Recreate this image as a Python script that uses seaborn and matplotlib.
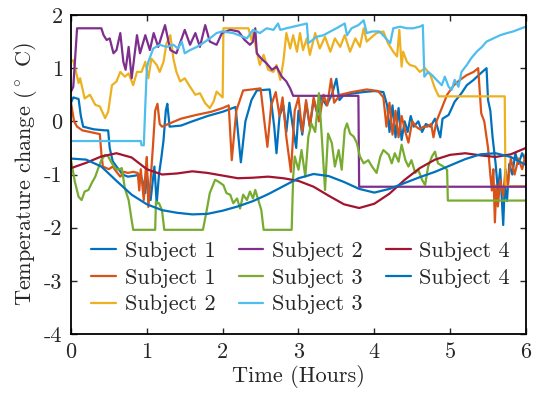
import numpy as np
import pandas as pd
import seaborn as sns
import matplotlib.pyplot as plt

# colores por defecto de MATLAB
c_blue = '#0072BD'
c_orange = '#D95319'
c_yellow = '#EDB120'
c_purple = '#7E2F8E'
c_green = '#77AC30'
c_lblue = '#4DBEEE'
c_red = '#A2142F'

# (tiempo en horas, cambio de temperatura)
s1_blue = [(0, 0.35), (0.03, 0.45), (0.1, 0.42), (0.13, 0.1), (0.16, -0.1), (0.3, -0.15),
           (0.45, -0.17), (0.49, -0.17), (0.51, -0.5), (0.55, -0.75), (0.6, -0.85), (0.68, -1.0),
           (0.75, -1.04), (0.85, -1.02), (0.91, -1.0), (0.94, -1.1), (0.98, -1.35), (1.0, -1.0),
           (1.05, -1.48), (1.08, -1.1), (1.1, -0.85), (1.13, -1.55), (1.16, -1.0), (1.19, -0.7),
           (1.22, -0.36), (1.25, 0.2), (1.27, 0.33), (1.3, -0.1), (1.45, -0.08), (1.6, 0.0),
           (1.8, 0.1), (2.0, 0.18), (2.17, 0.27), (2.24, -0.77), (2.3, 0.0), (2.38, 0.4),
           (2.45, 0.58), (2.62, 0.6), (2.68, -0.1), (2.71, -0.6), (2.75, 0.1), (2.8, 0.3),
           (2.84, -0.2), (2.88, 0.35), (2.92, -0.05), (2.97, -0.5), (3.0, 0.2), (3.05, -0.25),
           (3.1, 0.35), (3.15, -0.1), (3.2, 0.4), (3.25, 0.15), (3.3, 0.45), (3.37, 0.3),
           (3.44, 0.5), (3.5, 0.8), (3.54, 0.4), (3.6, 0.5), (3.7, 0.52), (3.85, 0.55),
           (4.0, 0.57), (4.12, 0.55), (4.17, 0.3), (4.2, -0.2), (4.24, 0.3), (4.28, -0.3),
           (4.32, 0.25), (4.36, -0.35), (4.4, 0.0), (4.44, -0.2), (4.48, 0.1), (4.52, -0.1),
           (4.58, 0.0), (4.63, -0.2), (4.68, -0.05), (4.74, -0.1), (4.8, 0.05), (4.87, -0.3),
           (4.9, 0.05), (4.98, 0.12), (5.06, 0.37), (5.15, 0.53), (5.22, 0.68), (5.31, 0.78),
           (5.4, 0.9), (5.48, 1.0), (5.5, 0.4), (5.53, 0.2), (5.56, -0.3), (5.6, -0.8),
           (5.63, -1.3), (5.66, -0.9), (5.7, -1.95), (5.72, -1.2), (5.75, -1.5), (5.78, -0.8),
           (5.82, -1.0), (5.86, -0.6), (5.9, -0.8), (5.95, -0.6), (6.0, -0.75)]

s1_orange = [(0, 0.35), (0.04, 0.0), (0.08, -0.1), (0.15, -0.17), (0.25, -0.2), (0.38, -0.24),
             (0.4, -0.6), (0.42, -0.85), (0.5, -0.9), (0.55, -0.85), (0.6, -0.95), (0.65, -1.04),
             (0.7, -0.95), (0.75, -0.97), (0.82, -0.95), (0.88, -0.97), (0.9, -1.3), (0.92, -0.9),
             (0.96, -1.48), (0.98, -1.0), (1.0, -0.67), (1.02, -1.61), (1.05, -1.1), (1.08, -0.48),
             (1.11, 0.2), (1.14, 0.33), (1.17, -0.05), (1.2, -0.1), (1.3, -0.04), (1.45, 0.05),
             (1.65, 0.12), (1.85, 0.18), (2.0, 0.25), (2.08, 0.3), (2.12, -0.73), (2.18, 0.2),
             (2.27, 0.58), (2.5, 0.62), (2.55, 0.0), (2.59, -0.48), (2.64, 0.3), (2.7, 0.55),
             (2.75, 0.1), (2.79, 0.45), (2.84, -0.3), (2.9, -0.95), (2.95, 0.2), (3.0, 0.45),
             (3.05, -0.2), (3.1, 0.4), (3.15, -0.1), (3.2, 0.45), (3.27, 0.0), (3.33, 0.5),
             (3.38, 0.3), (3.43, 0.8), (3.47, 0.35), (3.55, 0.5), (3.7, 0.55), (3.9, 0.6),
             (4.05, 0.57), (4.12, 0.45), (4.16, -0.1), (4.2, 0.35), (4.24, -0.25), (4.28, 0.2),
             (4.32, -0.3), (4.36, 0.1), (4.41, -0.2), (4.45, -0.4), (4.5, 0.0), (4.55, -0.1),
             (4.6, -0.15), (4.65, -0.1), (4.7, -0.1), (4.75, -0.05), (4.78, -0.3), (4.82, 0.0),
             (4.89, 0.25), (4.96, 0.5), (5.05, 0.68), (5.13, 0.78), (5.22, 0.87), (5.31, 0.93),
             (5.37, 1.0), (5.41, 0.15), (5.45, 0.0), (5.5, -0.5), (5.53, -1.0), (5.55, -1.3),
             (5.57, -0.9), (5.59, -1.9), (5.61, -1.2), (5.63, -1.6), (5.66, -1.1), (5.7, -1.4),
             (5.73, -0.9), (5.76, -1.2), (5.8, -0.7), (5.85, -1.0), (5.9, -0.7), (5.95, -0.9),
             (6.0, -0.6)]

s2_yellow = [(0, 1.12), (0.03, 1.15), (0.1, 0.72), (0.12, 0.81), (0.18, 0.43), (0.25, 0.5),
             (0.32, 0.31), (0.38, 0.28), (0.45, 0.06), (0.49, 0.18), (0.54, 0.68), (0.6, 0.75),
             (0.65, 0.93), (0.71, 0.84), (0.76, 0.9), (0.82, 0.68), (0.87, 0.93), (0.93, 0.93),
             (0.98, 1.12), (1.02, 0.81), (1.06, 1.18), (1.13, 1.06), (1.17, 0.93), (1.22, 1.12),
             (1.26, 1.47), (1.31, 1.62), (1.35, 1.18), (1.39, 0.93), (1.44, 0.75), (1.5, 0.81),
             (1.57, 0.65), (1.64, 0.5), (1.7, 0.53), (1.77, 0.34), (1.83, 0.25), (1.88, 0.37),
             (1.92, 0.56), (2.0, 0.45), (2.01, 1.75), (2.34, 1.75), (2.38, 1.53), (2.4, 1.66),
             (2.45, 1.31), (2.49, 1.06), (2.54, 1.25), (2.6, 0.97), (2.67, 0.93), (2.71, 1.06),
             (2.76, 0.78), (2.8, 1.12), (2.84, 1.66), (2.89, 1.37), (2.93, 1.62), (2.98, 1.31),
             (3.02, 1.66), (3.06, 1.34), (3.11, 1.56), (3.15, 1.25), (3.22, 1.66), (3.28, 1.37),
             (3.35, 1.59), (3.42, 1.31), (3.48, 1.56), (3.55, 1.4), (3.61, 1.62), (3.68, 1.31),
             (3.75, 1.56), (3.81, 1.4), (3.86, 1.75), (3.9, 1.5), (3.97, 1.59), (4.03, 1.66),
             (4.12, 1.69), (4.18, 1.47), (4.25, 1.31), (4.3, 1.22), (4.33, 1.72), (4.36, 1.03),
             (4.38, 1.31), (4.43, 1.12), (4.47, 1.06), (4.54, 1.03), (4.6, 0.93), (4.67, 1.0),
             (4.74, 0.87), (4.8, 0.62), (4.85, 0.47), (5.72, 0.47), (5.73, -1.22), (6.0, -1.22)]

s2_purple = [(0, 0.56), (0.03, 0.65), (0.08, 1.75), (0.4, 1.75), (0.43, 1.62), (0.47, 1.53),
             (0.51, 1.56), (0.56, 1.28), (0.6, 1.34), (0.65, 1.66), (0.69, 1.12), (0.72, 0.97),
             (0.76, 1.4), (0.8, 0.81), (0.87, 1.62), (0.91, 1.28), (0.98, 1.62), (1.04, 1.34),
             (1.09, 1.66), (1.15, 1.4), (1.24, 1.81), (1.31, 1.34), (1.39, 1.28), (1.5, 1.72),
             (1.57, 1.44), (1.64, 1.66), (1.7, 1.4), (1.77, 1.81), (1.83, 1.5), (1.92, 1.44),
             (1.99, 1.66), (2.1, 1.72), (2.21, 1.69), (2.29, 1.53), (2.36, 1.44), (2.4, 1.5),
             (2.43, 1.75), (2.45, 1.28), (2.51, 1.18), (2.58, 1.09), (2.65, 0.97), (2.71, 1.03),
             (2.78, 0.84), (2.84, 0.75), (2.89, 0.62), (2.93, 0.48), (3.79, 0.48), (3.8, -1.23),
             (6.0, -1.23)]

s3_green = [(0, -0.73), (0.05, -1.13), (0.1, -1.42), (0.14, -1.48), (0.18, -1.32), (0.23, -1.29),
            (0.27, -1.17), (0.32, -1.04), (0.36, -0.88), (0.4, -0.73), (0.45, -0.63), (0.49, -0.66),
            (0.54, -0.79), (0.58, -0.88), (0.62, -0.91), (0.67, -0.88), (0.71, -1.26), (0.76, -1.48),
            (0.8, -1.86), (0.82, -2.04), (1.11, -2.04), (1.12, -1.51), (1.16, -1.54), (1.2, -1.67),
            (1.23, -2.04), (1.74, -2.04), (1.79, -1.67), (1.83, -1.35), (1.9, -1.1), (1.94, -1.13),
            (2.01, -1.2), (2.05, -1.35), (2.1, -1.38), (2.14, -1.54), (2.19, -1.45), (2.23, -1.64),
            (2.27, -1.38), (2.32, -1.48), (2.36, -1.32), (2.4, -1.45), (2.43, -1.29), (2.47, -1.48),
            (2.51, -1.67), (2.54, -2.04), (2.91, -2.04), (2.93, -1.04), (2.95, -0.66), (3.0, -0.91),
            (3.04, -0.54), (3.09, -1.04), (3.13, -0.29), (3.17, -0.04), (3.22, -0.2), (3.27, 0.53),
            (3.31, -0.35), (3.35, -1.29), (3.39, -0.23), (3.44, -0.41), (3.48, -0.85), (3.53, -0.54),
            (3.57, -0.91), (3.61, -0.16), (3.64, -0.04), (3.68, -0.23), (3.73, -0.29), (3.77, -0.41),
            (3.81, -0.66), (3.86, -0.79), (3.92, -0.73), (3.97, -0.85), (4.03, -0.97), (4.08, -0.66),
            (4.12, -0.54), (4.19, -0.63), (4.23, -0.79), (4.27, -0.6), (4.32, -0.76), (4.36, -0.44),
            (4.41, -0.73), (4.45, -0.85), (4.49, -0.73), (4.54, -0.97), (4.58, -0.91), (4.63, -1.1),
            (4.67, -1.2), (4.71, -0.85), (4.76, -0.66), (4.8, -0.57), (4.84, -0.79), (4.91, -0.85),
            (4.96, -0.91), (4.97, -1.49), (6.0, -1.49)]

s3_lblue = [(0, -0.37), (0.92, -0.37), (0.93, -0.45), (0.96, -0.45), (0.98, 0.3), (1.0, 1.0),
            (1.02, 1.12), (1.085, 1.37), (1.17, 1.44), (1.26, 1.4), (1.35, 1.44), (1.41, 1.37),
            (1.46, 1.5), (1.5, 1.28), (1.57, 1.34), (1.66, 1.4), (1.74, 1.47), (1.83, 1.56),
            (1.92, 1.66), (1.99, 1.69), (2.14, 1.66), (2.32, 1.56), (2.4, 1.72), (2.49, 1.66),
            (2.58, 1.75), (2.67, 1.72), (2.73, 1.84), (2.76, 1.72), (2.84, 1.75), (2.93, 1.78),
            (3.02, 1.81), (3.11, 1.84), (3.13, 1.47), (3.24, 1.59), (3.33, 1.62), (3.42, 1.69),
            (3.5, 1.75), (3.61, 1.84), (3.64, 1.62), (3.7, 1.75), (3.79, 1.81), (3.86, 1.9),
            (3.9, 1.66), (3.97, 1.69), (4.07, 1.69), (4.21, 1.47), (4.25, 1.75), (4.34, 1.78),
            (4.43, 1.75), (4.51, 1.75), (4.6, 1.78), (4.64, 1.81), (4.66, 0.84), (4.71, 0.93),
            (4.76, 0.87), (4.82, 0.78), (4.89, 0.68), (4.93, 0.84), (4.98, 0.65), (5.02, 0.59),
            (5.06, 0.78), (5.11, 0.65), (5.15, 0.93), (5.22, 1.06), (5.28, 1.19), (5.35, 1.31),
            (5.42, 1.4), (5.48, 1.5), (5.57, 1.56), (5.66, 1.62), (5.75, 1.66), (5.83, 1.69),
            (5.94, 1.75), (6.0, 1.78)]

s4_red = [(0, -0.88), (0.2, -0.78), (0.4, -0.66), (0.6, -0.6), (0.8, -0.68), (1.0, -0.9),
          (1.2, -1.0), (1.4, -0.98), (1.6, -0.94), (1.8, -0.97), (2.0, -1.02), (2.2, -1.07),
          (2.4, -1.06), (2.6, -1.04), (2.8, -1.07), (3.0, -1.12), (3.2, -1.23), (3.4, -1.4),
          (3.6, -1.56), (3.8, -1.63), (4.0, -1.55), (4.2, -1.36), (4.4, -1.1), (4.6, -0.88),
          (4.8, -0.72), (5.0, -0.63), (5.2, -0.6), (5.4, -0.64), (5.6, -0.67), (5.8, -0.62),
          (6.0, -0.5)]

s4_blue = [(0, -0.7), (0.2, -0.72), (0.4, -0.85), (0.6, -1.12), (0.8, -1.38), (1.0, -1.56),
           (1.2, -1.67), (1.4, -1.72), (1.6, -1.75), (1.8, -1.74), (2.0, -1.68), (2.2, -1.6),
           (2.4, -1.5), (2.6, -1.37), (2.8, -1.22), (3.0, -1.07), (3.2, -0.99), (3.4, -1.03),
           (3.6, -1.14), (3.8, -1.27), (4.0, -1.34), (4.2, -1.27), (4.4, -1.16), (4.6, -1.05),
           (4.8, -0.95), (5.0, -0.83), (5.2, -0.71), (5.4, -0.62), (5.6, -0.6), (5.8, -0.67),
           (6.0, -0.82)]

series = [('Subject 1', s1_blue, c_blue),
          ('Subject 1', s1_orange, c_orange),
          ('Subject 2', s2_yellow, c_yellow),
          ('Subject 2', s2_purple, c_purple),
          ('Subject 3', s3_green, c_green),
          ('Subject 3', s3_lblue, c_lblue),
          ('Subject 4', s4_red, c_red),
          ('Subject 4', s4_blue, c_blue)]

sns.set_style('ticks')
plt.rcParams['font.family'] = 'serif'
plt.rcParams['font.serif'] = ['cmr10']
plt.rcParams['mathtext.fontset'] = 'cm'
plt.rcParams['axes.unicode_minus'] = False
plt.rcParams['axes.formatter.use_mathtext'] = False

fig = plt.figure(figsize=(5.4, 4.01), dpi=100)
ax = fig.add_axes([0.1315, 0.167, 0.8425, 0.7956])

for name, pts, col in series:
    df = pd.DataFrame(pts, columns=['t', 'v'])
    sns.lineplot(data=df, x='t', y='v', estimator=None, sort=False, color=col,
                 linewidth=1.6, label=name, ax=ax)

ax.set_xlim(0, 6)
ax.set_ylim(-4, 2)
ax.set_xticks(range(0, 7))
ax.set_yticks(range(-4, 3))
ax.tick_params(direction='in', length=4, width=1.0, top=True, right=True,
               labelsize=16, pad=6)
for sp in ax.spines.values():
    sp.set_linewidth(1.3)
    sp.set_color('black')

ax.set_xlabel('Time (Hours)', fontsize=16, labelpad=2)
ax.set_ylabel(r'Temperature change ($^\circ$ C)', fontsize=16, labelpad=4)

ax.legend(ncol=3, loc='upper center', bbox_to_anchor=(0.505, 0.34), frameon=False,
          fontsize=16, handlelength=1.1, handletextpad=0.4, columnspacing=1.05,
          labelspacing=0.33, borderpad=0.2)

fig.savefig('out.png', dpi=100)
